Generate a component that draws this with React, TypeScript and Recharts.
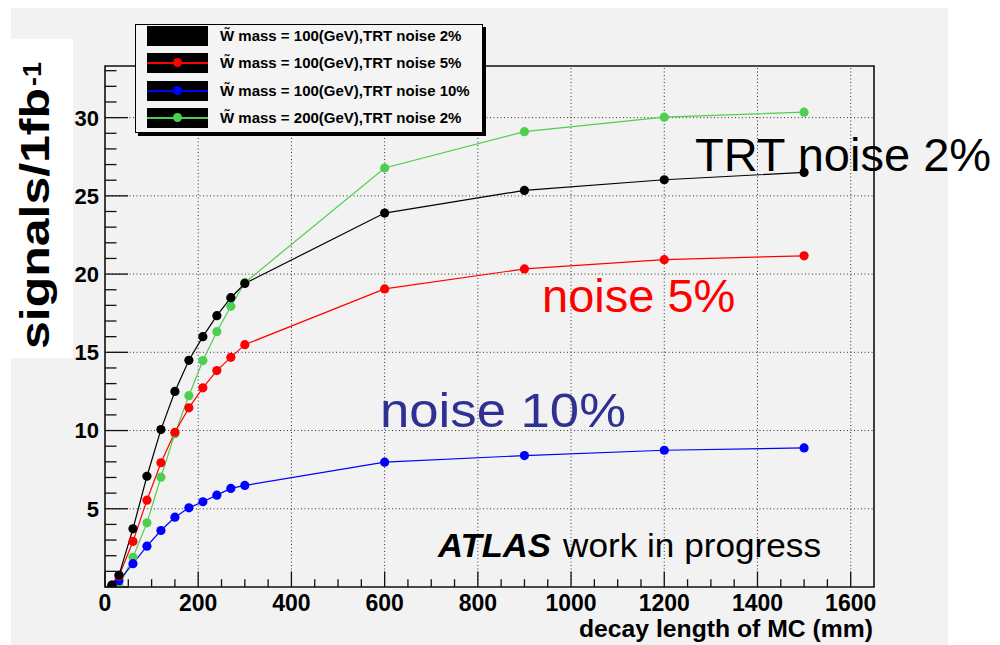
import { LineChart, Line, XAxis, YAxis, ReferenceLine, ReferenceArea } from 'recharts';

// decay length of MC (mm)
const decayLength = [15, 30, 60, 90, 120, 150, 180, 210, 240, 270, 300, 600, 900, 1200, 1500];

// signals / 1fb-1
const mass100Noise2 = [0.12, 0.76, 3.72, 7.08, 10.06, 12.5, 14.49, 16.0, 17.34, 18.49, 19.4, 23.9, 25.35, 26.03, 26.5];
const mass100Noise5 = [0.1, 0.7, 2.91, 5.55, 7.94, 9.89, 11.45, 12.73, 13.83, 14.68, 15.49, 19.05, 20.33, 20.92, 21.17];
const mass100Noise10 = [0.1, 0.4, 1.49, 2.61, 3.61, 4.46, 5.06, 5.45, 5.87, 6.3, 6.49, 7.98, 8.4, 8.74, 8.89];
const mass200Noise2 = [0, 0.05, 1.9, 4.1, 7.02, 9.8, 12.23, 14.47, 16.32, 17.94, 19.45, 26.78, 29.1, 30.03, 30.35];

const xMajorTicks = [0, 200, 400, 600, 800, 1000, 1200, 1400, 1600];
const xMinorTicks = [
  0, 50, 100, 150, 200, 250, 300, 350, 400, 450, 500, 550, 600, 650, 700, 750, 800,
  850, 900, 950, 1000, 1050, 1100, 1150, 1200, 1250, 1300, 1350, 1400, 1450, 1500, 1550, 1600,
];
const yMajorTicks = [5, 10, 15, 20, 25, 30];
const yMinorTicks = [
  0, 1, 2, 3, 4, 5, 6, 7, 8, 9, 10, 11, 12, 13, 14, 15, 16, 17, 18, 19, 20,
  21, 22, 23, 24, 25, 26, 27, 28, 29, 30, 31, 32, 33,
];

const X_MAX = 1650;
const Y_MAX = 33.3;

const series = [
  { key: 'm100n2', label: 'W\u0303 mass = 100(GeV),TRT noise 2%', color: '#000000', values: mass100Noise2 },
  { key: 'm100n5', label: 'W\u0303 mass = 100(GeV),TRT noise 5%', color: '#ff0000', values: mass100Noise5 },
  { key: 'm100n10', label: 'W\u0303 mass = 100(GeV),TRT noise 10%', color: '#0000ff', values: mass100Noise10 },
  { key: 'm200n2', label: 'W\u0303 mass = 200(GeV),TRT noise 2%', color: '#4fcf4f', values: mass200Noise2 },
];

const data = decayLength.map((x, i) => {
  const row: Record<string, number> = { x };
  series.forEach((s) => (row[s.key] = s.values[i]));
  return row;
});

// drawing order: green under blue under red under black
const drawOrder = ['m200n2', 'm100n10', 'm100n5', 'm100n2'];

const FONT = "'Liberation Sans', Arial, Helvetica, sans-serif";

function XTick(props: any) {
  const { x, y, payload } = props;
  const major = xMajorTicks.includes(payload.value);
  return (
    <g>
      <line x1={x} x2={x} y1={y} y2={y - (major ? 15.6 : 7.8)} stroke="#111" strokeWidth={1.3} />
      {major && (
        <text x={x} y={y + 24} textAnchor="middle" fontSize={23} fontWeight="bold" fontFamily={FONT} fill="#000">
          {payload.value}
        </text>
      )}
    </g>
  );
}

function YTick(props: any) {
  const { x, y, payload } = props;
  const major = payload.value % 5 === 0;
  return (
    <g>
      <line x1={x} x2={x + (major ? 23 : 11.5)} y1={y} y2={y} stroke="#111" strokeWidth={1.3} />
      {yMajorTicks.includes(payload.value) && (
        <text x={x - 6} y={y} dy="0.36em" textAnchor="end" fontSize={22} fontWeight="bold" fontFamily={FONT} fill="#000">
          {payload.value}
        </text>
      )}
    </g>
  );
}

function LegendBox() {
  const rows = [25.5, 52.5, 80.5, 107.5];
  return (
    <div
      style={{
        position: 'absolute',
        left: 135,
        top: 24,
        width: 346,
        height: 107,
        border: '1px solid #000',
        background: '#f4f4f4',
        boxShadow: '3px 3px 0 0 #000',
        fontFamily: FONT,
      }}
    >
      {series.map((s, i) => (
        <div key={s.key}>
          <div
            style={{
              position: 'absolute',
              left: 11,
              top: rows[i] - 25,
              width: 61,
              height: 20,
              background: '#000',
            }}
          >
            <div style={{ position: 'absolute', left: 0, right: 0, top: 9, height: 2, background: s.color }} />
            <div
              style={{
                position: 'absolute',
                left: 26,
                top: 5.5,
                width: 9,
                height: 9,
                borderRadius: '50%',
                background: s.color,
              }}
            />
          </div>
          <div
            style={{
              position: 'absolute',
              left: 84,
              top: rows[i] - 25,
              height: 20,
              lineHeight: '20px',
              fontSize: 15,
              fontWeight: 'bold',
              whiteSpace: 'nowrap',
              color: '#000',
            }}
          >
            {s.label}
          </div>
        </div>
      ))}
    </div>
  );
}

export default function App() {
  return (
    <div style={{ position: 'absolute', left: 0, top: 0, width: 1000, height: 645, background: '#fff', overflow: 'hidden' }}>
      <div style={{ position: 'absolute', left: 11, top: 8, width: 937, height: 637, background: '#f2f2f2' }} />
      <div style={{ position: 'absolute', left: 11, top: 39, width: 62, height: 319, background: '#fff' }} />

      <div style={{ position: 'absolute', left: 0, top: 0 }}>
        <LineChart width={1000} height={645} data={data} margin={{ top: 66, right: 126, bottom: 3, left: 45 }}>
          <XAxis
            type="number"
            dataKey="x"
            domain={[0, X_MAX]}
            ticks={xMinorTicks}
            interval={0}
            height={55}
            tickSize={0}
            tickMargin={0}
            axisLine={false}
            tickLine={false}
            tick={<XTick />}
            allowDataOverflow
          />
          <YAxis
            type="number"
            domain={[0, Y_MAX]}
            ticks={yMinorTicks}
            interval={0}
            width={60}
            tickSize={0}
            tickMargin={0}
            axisLine={false}
            tickLine={false}
            tick={<YTick />}
            allowDataOverflow
          />
          {xMajorTicks.slice(1).map((v) => (
            <ReferenceLine key={`gx${v}`} x={v} stroke="#333" strokeDasharray="1 2.5" strokeWidth={1} />
          ))}
          {yMajorTicks.map((v) => (
            <ReferenceLine key={`gy${v}`} y={v} stroke="#333" strokeDasharray="1 2.5" strokeWidth={1} />
          ))}
          <ReferenceArea x1={0} x2={X_MAX} y1={0} y2={Y_MAX} fill="none" stroke="#111" strokeWidth={1.6} />
          {drawOrder.map((k) => {
            const s = series.find((q) => q.key === k)!;
            return (
              <Line
                key={k}
                type="linear"
                dataKey={k}
                stroke={s.color}
                strokeWidth={1.2}
                dot={{ r: 4.6, fill: s.color, stroke: s.color, strokeWidth: 0 }}
                activeDot={false}
                isAnimationActive={false}
              />
            );
          })}
        </LineChart>
      </div>

      <svg width={1000} height={645} style={{ position: 'absolute', left: 0, top: 0, pointerEvents: 'none' }} fontFamily={FONT}>
        <text x={695} y={171} fontSize={47} fill="#000">TRT noise 2%</text>
        <text x={542} y={311.5} fontSize={47} fill="#ff0000">noise 5%</text>
        <text x={380} y={426.5} fontSize={48} fill="#2e3192" textLength={246} lengthAdjust="spacingAndGlyphs">noise 10%</text>
        <text x={438} y={556.5} fontSize={33} fontWeight="bold" fontStyle="italic" fill="#000" textLength={113} lengthAdjust="spacingAndGlyphs">ATLAS</text>
        <text x={563} y={556.5} fontSize={33} fill="#000" textLength={258} lengthAdjust="spacingAndGlyphs">work in progress</text>
        <text x={873} y={637} fontSize={24} fontWeight="bold" textAnchor="end" fill="#000" textLength={294} lengthAdjust="spacingAndGlyphs">decay length of MC (mm)</text>
        <text transform="translate(49,349) rotate(-90)" fontSize={40} fontWeight="bold" fill="#000" textLength={261} lengthAdjust="spacingAndGlyphs">signals/1fb</text>
        <text transform="translate(41,86) rotate(-90)" fontSize={26} fontWeight="bold" fill="#000" textLength={24} lengthAdjust="spacingAndGlyphs">-1</text>
      </svg>

      <LegendBox />
    </div>
  );
}
